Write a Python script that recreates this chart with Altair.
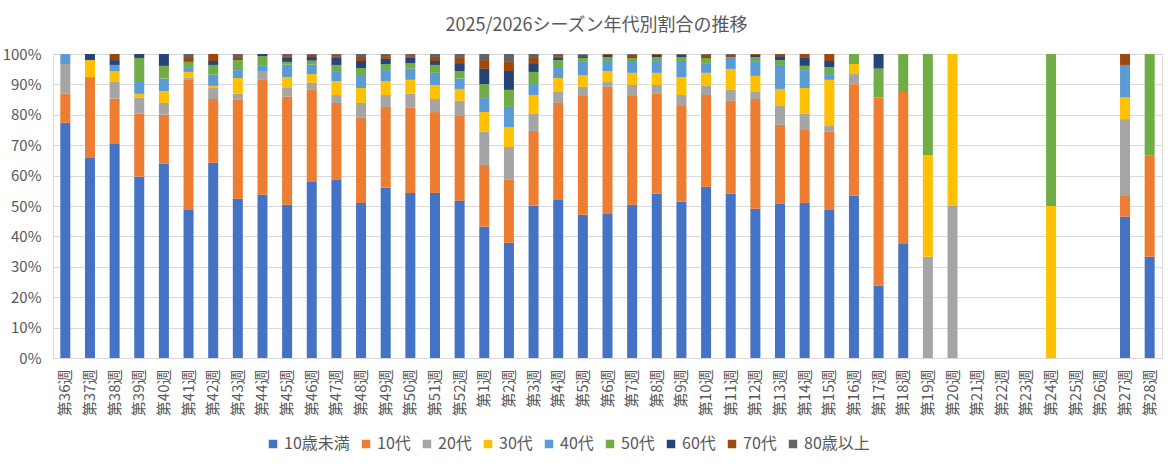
import altair as alt
import pandas as pd

# Weeks of the 2025/2026 season (week 36 of 2025 through week 28 of 2026)
weeks = [f"第{w}週" for w in list(range(36, 53)) + list(range(1, 29))]

ages = ["10歳未満", "10代", "20代", "30代", "40代", "50代", "60代", "70代", "80歳以上"]
colors = ["#4472C4", "#ED7D31", "#A5A5A5", "#FFC000", "#5B9BD5",
          "#70AD47", "#264478", "#9E480E", "#636363"]

# Share (%) of each age group per week; None = no reports that week
under10 = [77.4, 65.8, 70.4, 59.6, 63.9, 48.7, 64.2, 52.4, 53.7, 50.4, 57.9, 58.6, 51.0, 56.0, 54.3, 54.3, 51.7,
           43.2, 37.9, 50.1, 52.0, 47.1, 47.4, 50.4, 54.0, 51.4, 56.3, 54.0, 49.1, 50.7, 51.0, 48.7, 53.3,
           23.8, 37.5, 0, 0, None, None, None, 0, None, None, 46.4, 33.3]
teens = [9.5, 26.6, 14.9, 20.7, 16.1, 42.8, 21.0, 32.5, 37.8, 35.6, 30.3, 25.3, 28.0, 26.6, 28.0, 26.6, 27.9,
         20.3, 20.7, 24.6, 31.9, 39.1, 41.8, 35.8, 32.9, 31.5, 30.2, 30.6, 36.1, 26.0, 24.0, 25.7, 36.7,
         61.9, 50.0, 0, 0, None, None, None, 0, None, None, 7.1, 33.3]
twenties = [9.8, 0, 5.5, 5.2, 3.9, 0.7, 3.6, 2.0, 2.9, 2.8, 2.3, 2.6, 4.9, 3.9, 4.6, 4.3, 5.0,
            10.9, 10.8, 5.6, 3.6, 3.0, 1.6, 3.6, 2.9, 3.6, 3.0, 3.6, 2.3, 6.2, 5.3, 1.9, 3.3,
            0, 0, 33.3, 50.0, None, None, None, 0, None, None, 25.0, 0]
thirties = [0, 5.6, 3.6, 1.3, 3.9, 1.9, 0.7, 5.2, 0, 3.6, 2.9, 4.6, 4.9, 4.6, 4.6, 4.6, 3.9,
            6.5, 6.6, 6.2, 4.6, 3.9, 3.6, 4.0, 4.0, 5.9, 4.3, 6.9, 5.3, 5.6, 8.5, 15.2, 3.3,
            0, 0, 33.3, 50.0, None, None, None, 50.0, None, None, 7.1, 0]
forties = [3.3, 0, 2.0, 3.9, 4.1, 1.6, 3.7, 2.6, 1.7, 4.1, 3.1, 3.0, 4.3, 3.6, 3.7, 4.0, 3.4,
           4.6, 6.6, 3.6, 3.6, 4.3, 3.3, 3.9, 3.9, 5.3, 3.2, 3.6, 4.6, 7.9, 5.9, 1.9, 0,
           0, 0, 0, 0, None, None, None, 0, None, None, 10.7, 0]
fifties = [0, 0, 0, 7.9, 4.2, 1.7, 3.2, 3.3, 3.2, 0.9, 1.3, 2.3, 2.3, 2.0, 1.8, 2.6, 2.5,
           4.6, 5.6, 4.0, 2.3, 1.3, 1.3, 1.0, 1.3, 1.3, 1.7, 0.3, 1.6, 1.6, 1.4, 2.3, 3.3,
           9.5, 12.5, 33.3, 0, None, None, None, 50.0, None, None, 0, 33.3]
sixties = [0, 2.0, 1.6, 1.3, 3.9, 0, 1.3, 0, 0.7, 1.3, 1.2, 2.3, 2.3, 1.7, 1.7, 1.3, 2.6,
           5.0, 6.2, 2.9, 0.7, 0.6, 0.7, 0.3, 0.7, 0.7, 0.3, 0, 0.7, 1.3, 2.6, 2.0, 0,
           4.8, 0, 0, 0, None, None, None, 0, None, None, 0, 0]
seventies = [0, 0, 2.0, 0, 0, 1.6, 2.3, 1.0, 0, 0.6, 0.7, 0.6, 1.3, 0.9, 0.6, 1.3, 1.7,
             2.9, 3.0, 1.7, 0.6, 0.5, 0.3, 0.7, 0.3, 0, 0.7, 0.7, 0.3, 0.7, 1.3, 2.3, 0,
             0, 0, 0, 0, None, None, None, 0, None, None, 3.6, 0]
over80 = [0, 0, 0, 0, 0, 1.0, 0, 1.0, 0, 0.7, 0.3, 0.7, 1.0, 0.7, 0.7, 1.0, 1.3,
          2.0, 2.6, 1.3, 0.7, 0.2, 0, 0.3, 0, 0.3, 0.3, 0.3, 0, 0, 0, 0, 0,
          0, 0, 0, 0, None, None, None, 0, None, None, 0, 0]

series = [under10, teens, twenties, thirties, forties, fifties, sixties, seventies, over80]

rows = []
for idx, (age, vals) in enumerate(zip(ages, series)):
    for week, v in zip(weeks, vals):
        if v:
            rows.append({"week": week, "age": age, "order": idx, "value": v})
df = pd.DataFrame(rows)

FONT = "Noto Sans CJK JP"
TEXT = "#595959"
GRID = "#D9D9D9"

chart = alt.Chart(df).mark_bar(size=10).encode(
    x=alt.X("week:N", scale=alt.Scale(domain=weeks), title=None,
            axis=alt.Axis(labelAngle=270, labelFontSize=15, labelColor=TEXT,
                          labelPadding=11, ticks=False, domainColor=GRID,
                          labelFont=FONT, labelOverlap=False)),
    y=alt.Y("value:Q", stack="normalize", title=None,
            scale=alt.Scale(domain=[0, 1], nice=False),
            axis=alt.Axis(format=".0%", values=[i / 10 for i in range(11)],
                          labelFontSize=15, labelColor=TEXT, labelPadding=12,
                          ticks=False, domain=False, gridColor=GRID,
                          labelFont=FONT)),
    color=alt.Color("age:N", scale=alt.Scale(domain=ages, range=colors),
                    legend=alt.Legend(title=None, orient="none", direction="horizontal",
                                      legendX=212, legendY=382, symbolType="square",
                                      symbolSize=72, symbolStrokeWidth=0,
                                      labelFontSize=16, labelColor=TEXT, labelFont=FONT,
                                      columnPadding=8, labelOffset=3)),
    order=alt.Order("order:Q", sort="ascending"),
).properties(
    width=1109,
    height=304,
    padding={"left": 53, "top": 54, "right": 14, "bottom": 111},
    autosize=alt.AutoSizeParams(type="none"),
    title=alt.TitleParams("2025/2026シーズン年代別割合の推移", fontSize=18, color=TEXT,
                          font=FONT, fontWeight="normal", offset=12, dx=-11),
).configure_view(stroke=None).configure(font=FONT)

chart.save("out.html", embed_options={"renderer": "svg", "actions": False})
